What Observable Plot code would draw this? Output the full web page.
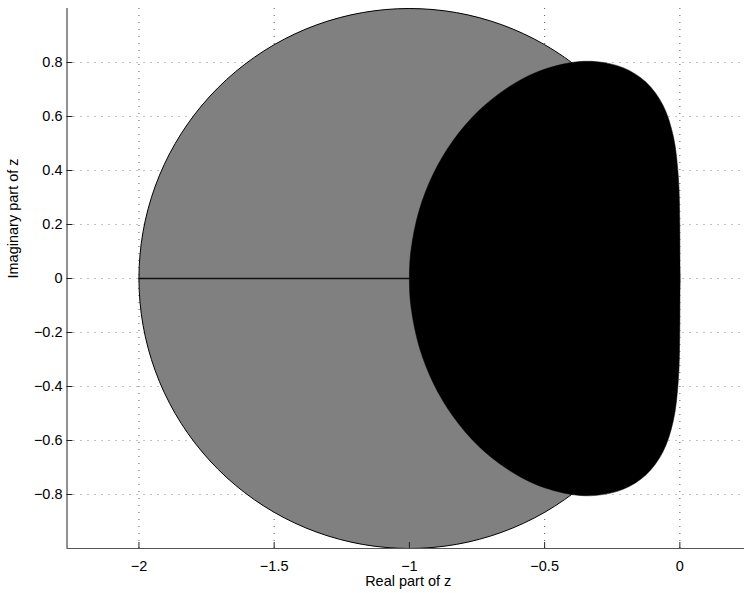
<!DOCTYPE html>
<html>
<head>
<meta charset="utf-8">
<script src="https://cdn.jsdelivr.net/npm/d3@7"></script>
<script src="https://cdn.jsdelivr.net/npm/@observablehq/plot@0.6"></script>
<style>
  html, body { margin: 0; padding: 0; background: #fff; }
</style>
</head>
<body>
<div id="chart"></div>
<script>
// Forward Euler stability disk |1+z| <= 1 (boundary points)
const eulerRe = [0, -0.0152, -0.0603, -0.1340, -0.2340, -0.3572, -0.5, -0.6580, -0.8264, -1,
  -1.1736, -1.3420, -1.5, -1.6428, -1.7660, -1.8660, -1.9397, -1.9848, -2,
  -1.9848, -1.9397, -1.8660, -1.7660, -1.6428, -1.5, -1.3420, -1.1736, -1,
  -0.8264, -0.6580, -0.5, -0.3572, -0.2340, -0.1340, -0.0603, -0.0152];
const eulerIm = [0, 0.1736, 0.3420, 0.5, 0.6428, 0.7660, 0.8660, 0.9397, 0.9848, 1,
  0.9848, 0.9397, 0.8660, 0.7660, 0.6428, 0.5, 0.3420, 0.1736, 0,
  -0.1736, -0.3420, -0.5, -0.6428, -0.7660, -0.8660, -0.9397, -0.9848, -1,
  -0.9848, -0.9397, -0.8660, -0.7660, -0.6428, -0.5, -0.3420, -0.1736];

// Black region boundary
const regionRe = [0, -0.0004, -0.0056, -0.024, -0.063, -0.125, -0.208, -0.307, -0.400, -0.530,
  -0.642, -0.746, -0.837, -0.911, -0.964, -0.994, -1,
  -0.994, -0.964, -0.911, -0.837, -0.746, -0.642, -0.530, -0.400, -0.307, -0.208,
  -0.125, -0.063, -0.024, -0.0056, -0.0004];
const regionIm = [0, 0.197, 0.376, 0.526, 0.643, 0.727, 0.780, 0.803, 0.800, 0.764,
  0.703, 0.619, 0.513, 0.389, 0.252, 0.106, 0,
  -0.106, -0.252, -0.389, -0.513, -0.619, -0.703, -0.764, -0.800, -0.803, -0.780,
  -0.727, -0.643, -0.526, -0.376, -0.197];

// Real-axis segment
const segRe = [-2, -1];
const segIm = [0, 0];

const xTicks = [-2, -1.5, -1, -0.5, 0];
const xTickLabels = ["\u22122", "\u22121.5", "\u22121", "\u22120.5", "0"];
const yTicks = [-0.8, -0.6, -0.4, -0.2, 0, 0.2, 0.4, 0.6, 0.8];
const yTickLabels = ["\u22120.8", "\u22120.6", "\u22120.4", "\u22120.2", "0", "0.2", "0.4", "0.6", "0.8"];
const xDomain = [-2.266, 0.239];
const yDomain = [-1, 1];
const xLabel = "Real part of z";
const yLabel = "Imaginary part of z";

const W = 744, H = 593;
const mL = 66.5, mR = 0, mT = 8, mB = 45;
const plotW = W - mL - mR, plotH = H - mT - mB;
const tickLen = 6;

const euler = eulerRe.map((x, i) => ({x, y: eulerIm[i]}));
const region = regionRe.map((x, i) => ({x, y: regionIm[i]}));
const seg = segRe.map((x, i) => ({x, y: segIm[i]}));

const chart = Plot.plot({
  width: W,
  height: H,
  marginLeft: mL,
  marginRight: mR,
  marginTop: mT,
  marginBottom: mB,
  style: {fontFamily: "'Liberation Sans', Arial, Helvetica, sans-serif", fontSize: "14.5px", background: "#fff", color: "#000"},
  x: {domain: xDomain, ticks: xTicks, tickSize: 0, tickPadding: 12, tickFormat: (d, i) => xTickLabels[xTicks.indexOf(d)], label: null},
  y: {domain: yDomain, ticks: yTicks, tickSize: 0, tickPadding: 4.5, tickFormat: (d) => yTickLabels[yTicks.indexOf(d)], label: null},
  marks: [
    Plot.ruleX(xTicks, {x: d => d, stroke: "#555", strokeWidth: 1, strokeDasharray: "1,6"}),
    Plot.ruleY(yTicks, {y: d => d, stroke: "#888", strokeWidth: 1, strokeDasharray: "1,6"}),
    Plot.line(euler, {x: "x", y: "y", fill: "#808080", stroke: "#000", strokeWidth: 1, curve: "catmull-rom-closed"}),
    Plot.line(seg, {x: "x", y: "y", stroke: "#111", strokeWidth: 1.5}),
    Plot.line(region, {x: "x", y: "y", fill: "#000", stroke: "#000", strokeWidth: 0.5, curve: "catmull-rom-closed"}),
    Plot.ruleX([xDomain[0]], {x: d => d, stroke: "#222", strokeWidth: 1}),
    Plot.ruleY([yDomain[0]], {y: d => d, stroke: "#555", strokeWidth: 1.2}),
    Plot.tickX(xTicks, {x: d => d, stroke: "#222", insetTop: plotH - tickLen}),
    Plot.tickY(yTicks, {y: d => d, stroke: "#222", insetRight: plotW - tickLen}),
    Plot.text([xLabel], {text: d => d, frameAnchor: "bottom", dx: 2.5, dy: 27, lineAnchor: "top", fill: "#000"}),
    Plot.text([yLabel], {text: d => d, frameAnchor: "left", rotate: -90, dx: -59, lineAnchor: "top", fill: "#000"})
  ]
});
document.getElementById("chart").appendChild(chart);
</script>
</body>
</html>
